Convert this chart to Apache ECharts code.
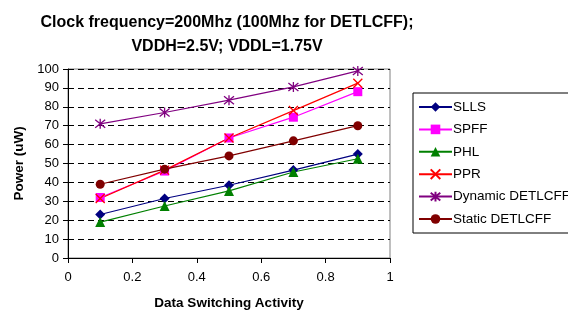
<!DOCTYPE html>
<html>
<head>
<meta charset="utf-8">
<script src="https://cdn.jsdelivr.net/npm/echarts@6/dist/echarts.min.js"></script>
<style>
  html, body { margin: 0; padding: 0; background: #fff; }
  #chart { width: 568px; height: 310px; }
</style>
</head>
<body>
<div id="chart"></div>
<script>
// switching activity on x, power in uW on y
const activity = [0.1, 0.3, 0.5, 0.7, 0.9];
const slls = [23, 31.5, 38.5, 46.5, 55];
const spff = [32, 46, 63.5, 74.5, 88];
const phl = [19, 27.5, 35.5, 45.5, 52.5];
const ppr = [31.5, 46.5, 63.5, 78, 92.5];
const dynDetlcff = [71, 77, 83.5, 90.5, 99];
const staticDetlcff = [39, 47, 54, 62, 70];

const crossPath = "path://M0,0L10,10M10,0L0,10";
const starPath = "path://M5,0L5,10M1,1L9,9M9,1L1,9";

function makeSeries(name, values, color, symbol, size, stroke) {
  return {
    name: name,
    type: "line",
    data: values.map((v, i) => [activity[i], v]),
    symbol: symbol,
    symbolSize: size,
    lineStyle: { color: color, width: 1.2 },
    itemStyle: {
      color: color,
      borderColor: color,
      borderWidth: stroke ? 1.3 : 0,
    },
  };
}

const chart = echarts.init(document.getElementById("chart"));
chart.setOption({
  animation: false,
  textStyle: { fontFamily: "Liberation Sans, Arial, sans-serif" },
  title: {
    text: "Clock frequency=200Mhz (100Mhz for DETLCFF);\nVDDH=2.5V; VDDL=1.75V",
    left: 222,
    top: 6,
    textAlign: "center",
    textStyle: { fontSize: 16, fontWeight: "bold", color: "#000", lineHeight: 24 },
  },
  grid: {
    left: 68,
    right: 178,
    top: 69,
    bottom: 52,
    outerBoundsMode: "none",
    show: true,
    borderColor: "#808080",
    borderWidth: 1,
  },
  legend: {
    orient: "vertical",
    left: 413,
    top: 93,
    padding: [7, 6, 7, 5],
    itemGap: 8.4,
    itemWidth: 33,
    itemHeight: 12,
    borderColor: "#000",
    borderWidth: 1,
    textStyle: { fontSize: 13.5, color: "#000", padding: [0, 0, 0, -4] },
  },
  xAxis: {
    type: "value",
    min: 0,
    max: 1,
    interval: 0.2,
    name: "Data Switching Activity",
    nameLocation: "middle",
    nameGap: 38,
    nameTextStyle: { fontSize: 13.5, fontWeight: "bold", color: "#000" },
    axisLine: { lineStyle: { color: "#000" } },
    axisTick: { show: true, length: 5, lineStyle: { color: "#000" } },
    axisLabel: { fontSize: 13, color: "#000", margin: 13 },
    splitLine: { show: false },
  },
  yAxis: {
    type: "value",
    min: 0,
    max: 100,
    interval: 10,
    name: "Power (uW)",
    nameLocation: "middle",
    nameGap: 38,
    nameTextStyle: { fontSize: 13.5, fontWeight: "bold", color: "#000" },
    axisLine: { show: true, lineStyle: { color: "#000" } },
    axisTick: { show: true, length: 5, lineStyle: { color: "#000" } },
    axisLabel: { fontSize: 13, color: "#000", margin: 9 },
    splitLine: { show: true, lineStyle: { color: "#000", type: [6, 4], width: 1 } },
  },
  series: [
    makeSeries("SLLS", slls, "#000080", "diamond", 10, false),
    makeSeries("SPFF", spff, "#FF00FF", "rect", 9, false),
    makeSeries("PHL", phl, "#008000", "triangle", 10, false),
    makeSeries("PPR", ppr, "#FF0000", crossPath, 9, true),
    makeSeries("Dynamic DETLCFF", dynDetlcff, "#800080", starPath, 10, true),
    makeSeries("Static DETLCFF", staticDetlcff, "#800000", "circle", 9, false),
  ],
});
</script>
</body>
</html>
